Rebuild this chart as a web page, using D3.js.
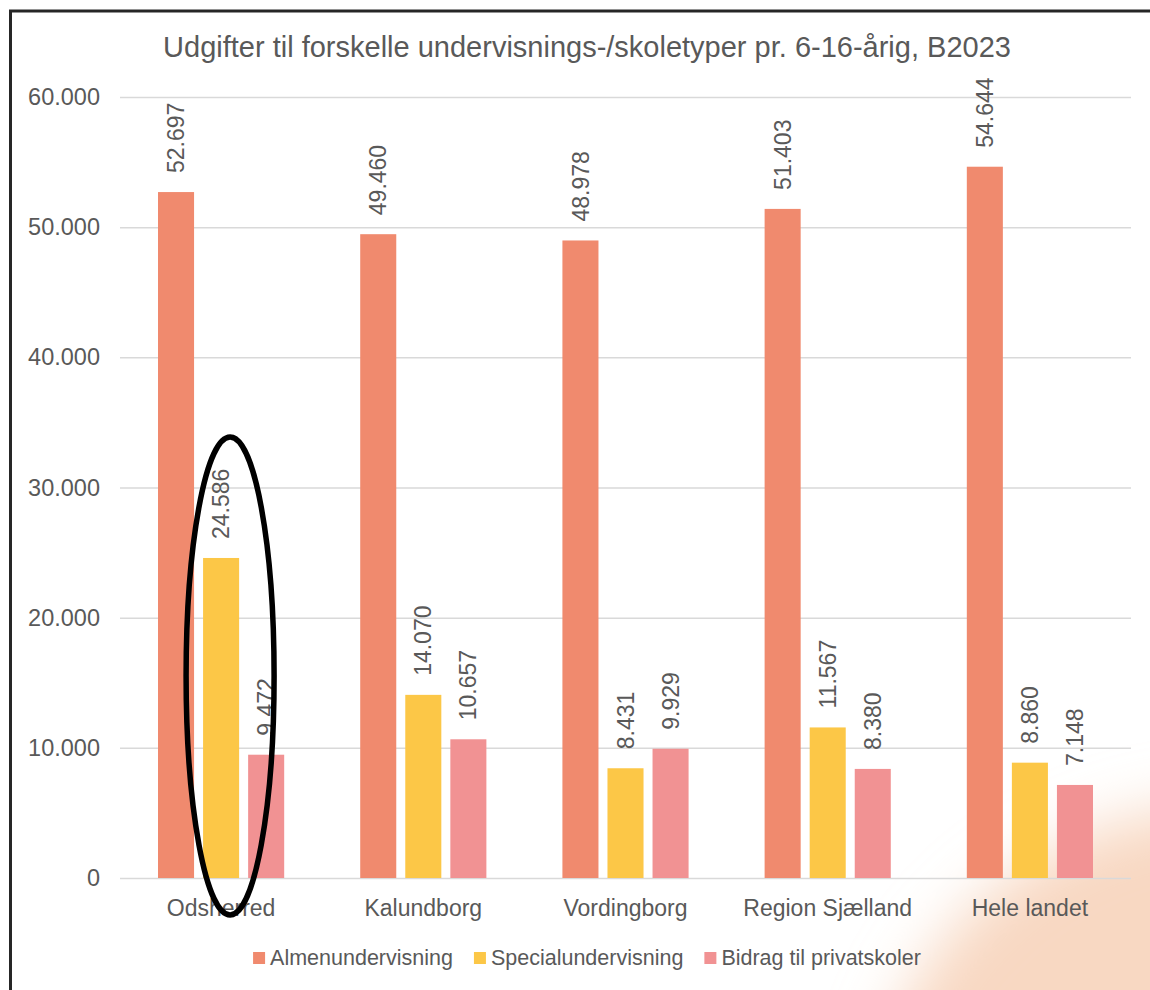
<!DOCTYPE html>
<html>
<head>
<meta charset="utf-8">
<script src="https://cdn.jsdelivr.net/npm/d3@7"></script>
<style>
  html, body { margin: 0; padding: 0; background: #fff; }
  svg { display: block; font-family: "Liberation Sans", Arial, sans-serif; }
</style>
</head>
<body>
<div id="chart"></div>
<script>
// Data
const categories = ["Odsherred", "Kalundborg", "Vordingborg", "Region Sjælland", "Hele landet"];
const seriesNames = ["Almenundervisning", "Specialundervisning", "Bidrag til privatskoler"];
const almen = [52697, 49460, 48978, 51403, 54644];
const special = [24586, 14070, 8431, 11567, 8860];
const bidrag = [9472, 10657, 9929, 8380, 7148];
const yTicks = [0, 10000, 20000, 30000, 40000, 50000, 60000];
const title = "Udgifter til forskelle undervisnings-/skoletyper pr. 6-16-årig, B2023";

const colors = ["#F08A6E", "#FCC747", "#F19293"];
const textColor = "#595959";

const W = 1150, H = 990;
const svg = d3.select("#chart").append("svg").attr("width", W).attr("height", H);

// Soft peach blob in the lower right corner
const defs = svg.append("defs");
defs.append("filter").attr("id", "blur")
    .attr("x", "-50%").attr("y", "-50%").attr("width", "200%").attr("height", "200%")
    .append("feGaussianBlur").attr("stdDeviation", 30);
svg.append("ellipse")
   .attr("cx", 1235).attr("cy", 1135)
   .attr("rx", 360).attr("ry", 330)
   .attr("fill", "#F8D8C2")
   .attr("filter", "url(#blur)");

// Frame lines (left and top)
svg.append("line").attr("x1", 10.5).attr("x2", 10.5).attr("y1", 10).attr("y2", H)
   .attr("stroke", "#262626").attr("stroke-width", 3);
svg.append("line").attr("x1", 9).attr("x2", W).attr("y1", 11).attr("y2", 11)
   .attr("stroke", "#262626").attr("stroke-width", 3);

// Scales
const x = d3.scaleBand().domain(categories).range([120, 1131])
            .paddingInner(0.376).paddingOuter(0.188);
const xs = d3.scaleBand().domain(seriesNames).range([0, x.bandwidth()]).paddingInner(0.2);
const y = d3.scaleLinear().domain([0, 60000]).range([878, 97]);

const fmt = v => d3.format(",")(v).replace(/,/g, ".");

// Title
svg.append("text")
   .attr("x", 587).attr("y", 57)
   .attr("text-anchor", "middle")
   .attr("fill", textColor)
   .style("font-size", "29px")
   .text(title);

// Gridlines + y labels
const yAxis = svg.append("g").attr("transform", "translate(120,0)")
   .call(d3.axisLeft(y).tickValues(yTicks).tickSize(-(1131 - 120)).tickPadding(20).tickFormat(fmt));
yAxis.select(".domain").remove();
yAxis.selectAll(".tick line").attr("stroke", "#D9D9D9").attr("stroke-width", 1.5);
yAxis.selectAll(".tick text").attr("fill", textColor).style("font-size", "23.5px")
     .attr("font-family", null);

// Bars
const series = [almen, special, bidrag];
const rows = [];
series.forEach((vals, si) => {
    vals.forEach((v, ci) => rows.push({cat: categories[ci], s: seriesNames[si], si: si, v: v}));
});

svg.append("g").selectAll("rect").data(rows).join("rect")
   .attr("x", d => x(d.cat) + xs(d.s))
   .attr("y", d => y(d.v))
   .attr("width", xs.bandwidth())
   .attr("height", d => y(0) - y(d.v))
   .attr("fill", d => colors[d.si]);

// Value labels, rotated
svg.append("g").selectAll("text").data(rows).join("text")
   .attr("transform", d => `translate(${x(d.cat) + xs(d.s) + xs.bandwidth() / 2},${y(d.v) - 19}) rotate(-90)`)
   .attr("dy", "0.35em")
   .attr("fill", textColor)
   .style("font-size", "23px")
   .text(d => fmt(d.v));

// Category labels
svg.append("g").selectAll("text").data(categories).join("text")
   .attr("x", d => x(d) + x.bandwidth() / 2)
   .attr("y", 916)
   .attr("text-anchor", "middle")
   .attr("fill", textColor)
   .style("font-size", "23px")
   .text(d => d);

// Legend, centred
const legend = svg.append("g");
let lx = 0;
seriesNames.forEach((name, i) => {
    const g = legend.append("g").attr("transform", `translate(${lx},0)`);
    g.append("rect").attr("x", 0).attr("y", 952).attr("width", 12).attr("height", 12).attr("fill", colors[i]);
    const t = g.append("text").attr("x", 17).attr("y", 965)
               .attr("fill", textColor).style("font-size", "21.5px").text(name);
    lx += 17 + t.node().getComputedTextLength() + 21;
});
const legendW = lx - 21;
legend.attr("transform", `translate(${587 - legendW / 2},0)`);

// Hand-drawn ellipse around Odsherred special + private school bars
const ex = x("Odsherred") + xs(seriesNames[1]) + xs.bandwidth() / 2 + 9;
svg.append("ellipse")
   .attr("cx", ex).attr("cy", 676)
   .attr("rx", 44).attr("ry", 239)
   .attr("fill", "none")
   .attr("stroke", "#000")
   .attr("stroke-width", 5.5);
</script>
</body>
</html>
